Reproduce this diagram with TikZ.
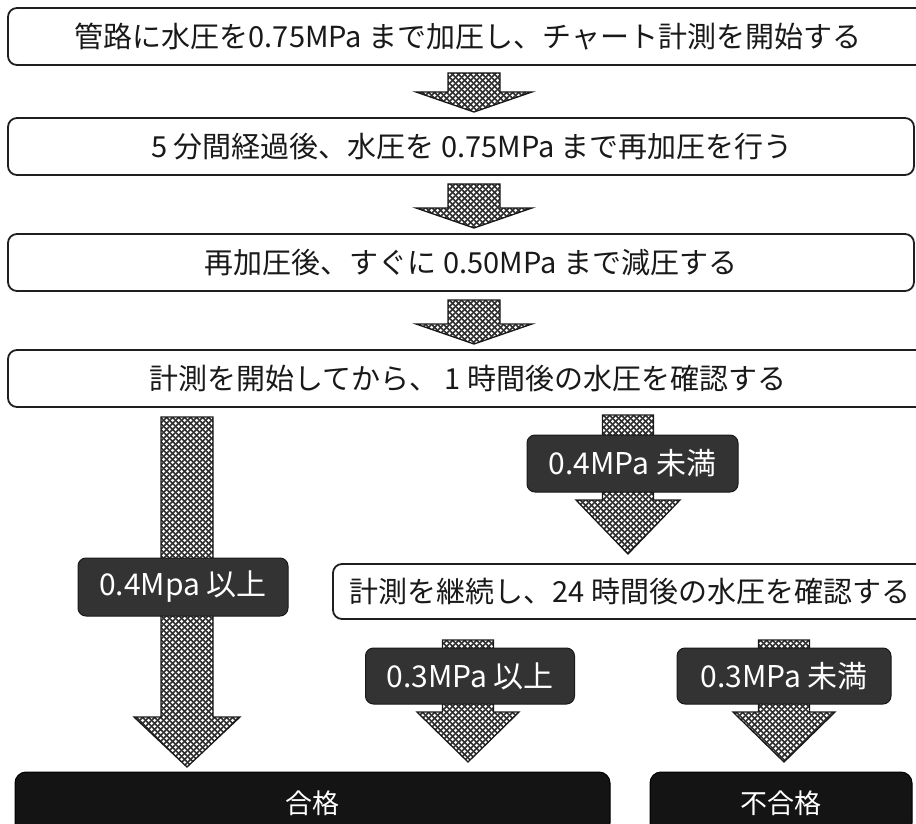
\documentclass[tikz,border=0pt]{standalone}
\usepackage{fontspec}
\setmainfont{Noto Sans CJK JP}
\usetikzlibrary{patterns.meta,calc}

\tikzdeclarepattern{
  name=mesh,
  type=uncolored,
  bottom left={(0pt,0pt)},
  top right={(5.6pt,5.6pt)},
  tile size={(5.6pt,5.6pt)},
  code={
    \draw[line width=1.8pt] (-1pt,-1pt) -- (6.6pt,6.6pt);
    \draw[line width=1.8pt] (-1pt,6.6pt) -- (6.6pt,-1pt);
  }
}

\tikzset{
  stepbox/.style={draw=black!88, line width=1.8pt, rounded corners=9pt, inner sep=0pt, fill=white},
  steptext/.style={text=black!90, font=\fontsize{29}{31}\selectfont, inner sep=0pt},
  tagbox/.style={draw=black!90, line width=1pt, fill=black!80, rounded corners=8pt, inner sep=0pt,
                 text=white, font=\fontsize{30}{32}\selectfont},
  resultbox/.style={fill=black!92, draw=black, line width=1pt, rounded corners=11pt, inner sep=0pt,
                 text=white, font=\fontsize{27}{29}\selectfont},
  arrowbody/.style={draw=black!90, line width=1.3pt, pattern={mesh}, pattern color=black!82, line join=miter},
}

% #1 start, #2 tip, #3 shaft half width, #4 head half width, #5 head length
\newcommand\blockarrow[5]{%
  \fill[white] let \p1=(#1), \p2=(#2) in
    (\x1-#3,\y1) -- (\x1+#3,\y1) -- (\x1+#3,\y2+#5) -- (\x1+#4,\y2+#5) -- (\x1,\y2)
    -- (\x1-#4,\y2+#5) -- (\x1-#3,\y2+#5) -- cycle;
  \path[arrowbody] let \p1=(#1), \p2=(#2) in
    (\x1-#3,\y1) -- (\x1+#3,\y1) -- (\x1+#3,\y2+#5) -- (\x1+#4,\y2+#5) -- (\x1,\y2)
    -- (\x1-#4,\y2+#5) -- (\x1-#3,\y2+#5) -- cycle;
}

\begin{document}
\begin{tikzpicture}[x=1pt,y=-1pt]
\useasboundingbox (0,0) rectangle (916,824);
\clip (0,0) rectangle (916,824);
\fill[white] (0,0) rectangle (916,824);

% step boxes
\node[stepbox, minimum width=917pt, minimum height=57pt] (b1) at (466.5,36.5) {};
\node[steptext] (t1) at (468,37) {管路に水圧を0.75MPa まで加圧し、チャート計測を開始する};

\node[stepbox, minimum width=906pt, minimum height=57pt] (b2) at (461,146.5) {};
\node[steptext] (t2) at (472,146.5) {5 分間経過後、水圧を 0.75MPa まで再加圧を行う};

\node[stepbox, minimum width=906pt, minimum height=57pt] (b3) at (461,262.5) {};
\node[steptext] (t3) at (471,262.5) {再加圧後、すぐに 0.50MPa まで減圧する};

\node[stepbox, minimum width=917pt, minimum height=57pt] (b4) at (466.5,378.5) {};
\node[steptext] (t4) at (468,378.5) {計測を開始してから、 1 時間後の水圧を確認する};

\node[stepbox, minimum width=592pt, minimum height=55pt] (b5) at (629,591.5) {};
\node[steptext] (t5) at (630,591.5) {計測を継続し、24 時間後の水圧を確認する};

% arrow end points
\coordinate (a1s) at (474,73);  \coordinate (a1e) at (474,112);
\coordinate (a2s) at (474,184); \coordinate (a2e) at (474,228);
\coordinate (a3s) at (474,300); \coordinate (a3e) at (474,344);
\coordinate (aLs) at (187,417); \coordinate (aLe) at (187,767);
\coordinate (aRs) at (628,415); \coordinate (aRe) at (628,554);
\coordinate (a5s) at (468,640); \coordinate (a5e) at (468,762);
\coordinate (a6s) at (784,640); \coordinate (a6e) at (784,762);

\blockarrow{a1s}{a1e}{26}{58}{20}
\blockarrow{a2s}{a2e}{26}{58}{20}
\blockarrow{a3s}{a3e}{26}{58}{20}
\blockarrow{aLs}{aLe}{26}{53}{50}
\blockarrow{aRs}{aRe}{25.5}{52}{54}
\blockarrow{a5s}{a5e}{25.5}{51}{50}
\blockarrow{a6s}{a6e}{25.5}{51}{50}

% condition tags
\node[tagbox, minimum width=210pt, minimum height=58pt] (c1) at (183,587) {0.4Mpa 以上};
\node[tagbox, minimum width=211pt, minimum height=57pt] (c2) at (632.5,463.5) {0.4MPa 未満};
\node[tagbox, minimum width=209pt, minimum height=56pt] (c3) at (470,676) {0.3MPa 以上};
\node[tagbox, minimum width=214pt, minimum height=56pt] (c4) at (784,676) {0.3MPa 未満};

% results
\node[resultbox, minimum width=595pt, minimum height=62pt] (r1) at (312.5,803) {合格};
\node[resultbox, minimum width=262pt, minimum height=62pt] (r2) at (781,803) {不合格};
\end{tikzpicture}
\end{document}
